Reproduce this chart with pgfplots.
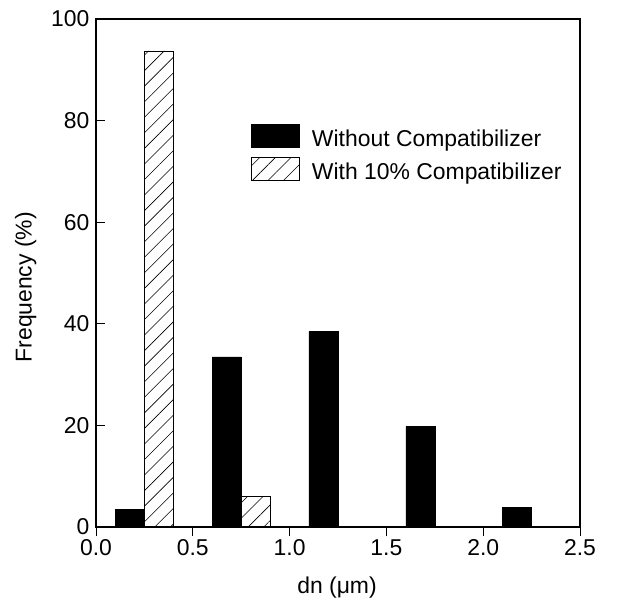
\documentclass[border=0pt]{standalone}
\usepackage{fontspec}
\setmainfont{Liberation Sans}
\usepackage{pgfplots}
\pgfplotsset{compat=1.18}
\usetikzlibrary{patterns.meta}

\newcommand{\figfont}{\fontsize{23}{27}\selectfont}
\pgfplotsset{boxlegend/.style={legend image code/.code={\draw[##1] (0bp,-9bp) rectangle (48bp,14bp); \path (60bp,0);}}}

\begin{document}
\begin{tikzpicture}
\useasboundingbox (0,0) rectangle (625bp,604bp);
\begin{axis}[
  at={(96bp,77bp)}, anchor=south west,
  scale only axis, width=484bp, height=508bp,
  xmin=0, xmax=2.5, ymin=0, ymax=100,
  xtick={0,0.5,1,1.5,2,2.5}, ytick={0,20,40,60,80,100},
  xticklabel style={/pgf/number format/.cd, fixed, fixed zerofill, precision=1},
  yticklabel style={xshift=-3bp},
  /pgf/number format/assume math mode=true,
  tick align=inside, tick pos=left, major tick length=9bp,
  axis line style={line width=1.6bp}, every tick/.style={black, line width=1bp},
  tick label style={font=\figfont},
  label style={font=\figfont},
  xlabel={dn (μm)}, ylabel={Frequency (\%)},
  xlabel style={at={(rel axis cs:0.498,-0.12)}, anchor=center},
  ylabel style={at={(rel axis cs:-0.145,0.472)}, anchor=center, rotate=0},
  ybar, bar width=0.15,
  legend style={at={(0.32,0.793)}, anchor=north west, draw=none, fill=none,
    inner sep=0pt, row sep=9.5bp, font=\figfont, nodes={inner sep=0pt}},
  legend cell align=left,
]
\addplot[bar shift=0pt, draw=black, fill=black, boxlegend]
  coordinates {(0.175,3.5) (0.675,33.5) (1.175,38.5) (1.675,19.8) (2.175,3.9)};
\addlegendentry{Without Compatibilizer}
\addplot[bar shift=0pt, draw=black, line width=0.9bp,
  pattern={Lines[angle=45, distance=11bp, line width=0.6bp]}, boxlegend]
  coordinates {(0.325,93.7) (0.825,6.0)};
\addlegendentry{With 10\% Compatibilizer}
\end{axis}
\end{tikzpicture}
\end{document}
